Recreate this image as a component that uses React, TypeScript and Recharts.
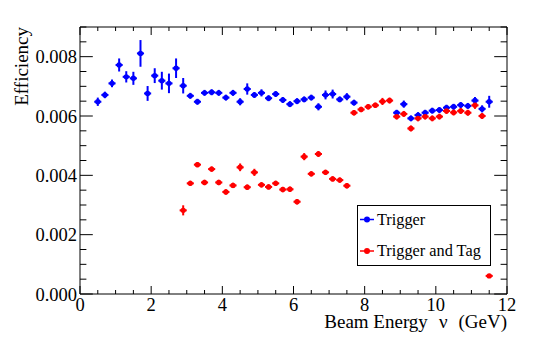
import React from "react";
import {
  ScatterChart,
  Scatter,
  XAxis,
  YAxis,
  ErrorBar,
  ReferenceArea,
  Legend,
} from "recharts";

// ---- data ----
const triggerEnergy = [
  0.5, 0.7, 0.9, 1.1, 1.3, 1.5, 1.7, 1.9, 2.1, 2.3, 2.5, 2.7, 2.9, 3.1, 3.3, 3.5,
  3.7, 3.9, 4.1, 4.3, 4.5, 4.7, 4.9, 5.1, 5.3, 5.5, 5.7, 5.9, 6.1, 6.3, 6.5, 6.7,
  6.9, 7.1, 7.3, 7.5, 7.7, 8.9, 9.1, 9.3, 9.5, 9.7, 9.9, 10.1, 10.3, 10.5, 10.7,
  10.9, 11.1, 11.3, 11.5,
];
const triggerEff = [
  0.00648, 0.00671, 0.0071, 0.00772, 0.00732, 0.00727, 0.00811, 0.00676, 0.00736,
  0.00719, 0.0071, 0.00761, 0.00702, 0.00668, 0.00648, 0.00678, 0.0068, 0.00678,
  0.00662, 0.00678, 0.00648, 0.00691, 0.00671, 0.00678, 0.0066, 0.00674, 0.00654,
  0.0064, 0.0065, 0.00656, 0.00662, 0.00631, 0.00671, 0.00674, 0.00656, 0.00665,
  0.00645, 0.00611, 0.0064, 0.00592, 0.00603, 0.00611, 0.00618, 0.0062, 0.00628,
  0.00631, 0.00637, 0.00634, 0.00652, 0.00624, 0.00648,
];
const triggerErr = [
  0.00014, 0.00011, 0.00013, 0.00022, 0.00019, 0.00022, 0.00045, 0.00025, 0.00025,
  0.0003, 0.00033, 0.00033, 0.00026, 0.0001, 0.0001, 0.0001, 0.0001, 0.0001,
  0.0001, 0.0001, 0.00012, 0.00019, 0.0001, 0.00012, 0.0001, 0.0001, 0.0001,
  0.0001, 0.0001, 0.0001, 0.0001, 0.00012, 0.00015, 0.00015, 0.0001, 0.00012,
  0.0001, 0.0001, 0.00012, 0.0001, 0.0001, 0.0001, 0.0001, 0.0001, 0.0001, 0.0001,
  0.0001, 0.0001, 0.00012, 0.00012, 0.0002,
];

const tagEnergy = [
  2.9, 3.1, 3.3, 3.5, 3.7, 3.9, 4.1, 4.3, 4.5, 4.7, 4.9, 5.1, 5.3, 5.5, 5.7, 5.9,
  6.1, 6.3, 6.5, 6.7, 6.9, 7.1, 7.3, 7.5, 7.7, 7.9, 8.1, 8.3, 8.5, 8.7, 8.9, 9.1,
  9.3, 9.5, 9.7, 9.9, 10.1, 10.3, 10.5, 10.7, 10.9, 11.1, 11.3, 11.5,
];
const tagEff = [
  0.00282, 0.00373, 0.00436, 0.00376, 0.00421, 0.00376, 0.00344, 0.00366, 0.00427,
  0.0036, 0.0041, 0.00368, 0.00361, 0.00373, 0.00352, 0.00353, 0.00311, 0.00463,
  0.00405, 0.00472, 0.0041, 0.00388, 0.00384, 0.00365, 0.00611, 0.00622, 0.00631,
  0.00636, 0.00649, 0.00652, 0.00598, 0.00607, 0.00558, 0.00592, 0.00598, 0.00592,
  0.00598, 0.00617, 0.00612, 0.00617, 0.00611, 0.00636, 0.006, 0.00061,
];
const tagErr = [
  0.00017, 0.00009, 0.00009, 0.00009, 0.00009, 0.00009, 0.00009, 0.00009, 0.00013,
  0.00009, 0.00012, 0.00009, 0.00009, 0.00009, 0.00009, 0.00009, 0.00009, 0.00012,
  0.00009, 0.0001, 0.00009, 0.00009, 0.00009, 0.00009, 0.00009, 0.00009, 0.00009,
  0.00009, 0.00012, 0.0001, 0.0001, 0.0001, 0.0001, 0.0001, 0.0001, 0.0001, 0.0001,
  0.0001, 0.0001, 0.0001, 0.0001, 0.00012, 0.0001, 0.00005,
];

const binHalfWidth = 0.1;
const xTickValues = Array.from({ length: 25 }, (_, k) => k / 2);
const yTickValues = Array.from({ length: 19 }, (_, k) => (k * 5) / 10000);

const seriesNames = ["Trigger", "Trigger and Tag"];
const seriesColors = ["#0000ff", "#ff0000"];

const triggerData = triggerEnergy.map((x, i) => ({
  x,
  y: triggerEff[i],
  ey: triggerErr[i],
  ex: binHalfWidth,
}));
const tagData = tagEnergy.map((x, i) => ({
  x,
  y: tagEff[i],
  ey: tagErr[i],
  ex: binHalfWidth,
}));

// ---- layout ----
const W = 533;
const H = 342;
const MARGIN = { top: 27, right: 26, bottom: 47, left: 79 };
const PLOT_TOP = MARGIN.top;
const PLOT_RIGHT = W - MARGIN.right;
const FONT = "Liberation Serif, Times New Roman, serif";
const serif = { fontFamily: FONT };
const FS = 18.5;

const XTick = (props: any) => {
  const { x, payload } = props;
  const y = H - MARGIN.bottom - 1;
  const v = payload.value;
  const major = Math.abs(v / 2 - Math.round(v / 2)) < 1e-9;
  const len = major ? 8 : 4;
  return (
    <g>
      <line x1={x} x2={x} y1={y} y2={y - len} stroke="#000" strokeWidth={1} />
      <line x1={x} x2={x} y1={PLOT_TOP} y2={PLOT_TOP + len} stroke="#000" strokeWidth={1} />
      {major && (
        <text x={x} y={y + 17} textAnchor="middle" style={serif} fontSize={FS} fill="#000">
          {String(v)}
        </text>
      )}
    </g>
  );
};

const YTick = (props: any) => {
  const { y, payload } = props;
  const x = MARGIN.left + 1;
  const v = payload.value;
  const k = Math.round(v * 2000);
  const major = k % 4 === 0;
  const len = major ? 12.8 : 6.4;
  return (
    <g>
      <line x1={x} x2={x + len} y1={y} y2={y} stroke="#000" strokeWidth={1} />
      <line x1={PLOT_RIGHT} x2={PLOT_RIGHT - len} y1={y} y2={y} stroke="#000" strokeWidth={1} />
      {major && (
        <text x={x - 3} y={y} dy="0.36em" textAnchor="end" style={serif} fontSize={FS} fill="#000">
          {v.toFixed(3)}
        </text>
      )}
    </g>
  );
};

const makeDot = (color: string) => (props: any) => {
  const { cx, cy } = props;
  if (cx == null || cy == null) return <g />;
  return <circle cx={cx} cy={cy} r={2.7} fill={color} />;
};

const XTitle = () => {
  const xr = PLOT_RIGHT;
  const yb = H - MARGIN.bottom - 1 + 34;
  return (
    <text x={xr} y={yb} textAnchor="end" style={serif} fontSize={19} fill="#000">
      <tspan>Beam Energy</tspan>
      <tspan dx={11}>ν</tspan>
      <tspan dx={11}>(GeV)</tspan>
    </text>
  );
};

const YTitle = () => {
  const bx = MARGIN.left + 1 - 52;
  const ty = PLOT_TOP;
  return (
    <text
      x={bx}
      y={ty}
      textAnchor="end"
      transform={`rotate(-90, ${bx}, ${ty})`}
      style={serif}
      fontSize={19}
      fill="#000"
    >
      Efficiency
    </text>
  );
};

const LegendBox = () => (
  <svg width={134} height={61} style={{ display: "block" }}>
    <rect x={0.5} y={0.5} width={133} height={60} fill="#fff" stroke="#000" strokeWidth={1} />
    {seriesNames.map((name, i) => {
      const cy = 14.5 + i * 31.5;
      return (
        <g key={name}>
          <line x1={3} x2={17} y1={cy} y2={cy} stroke={seriesColors[i]} strokeWidth={1.5} />
          <circle cx={10} cy={cy} r={3} fill={seriesColors[i]} />
          <text x={20} y={cy} dy="0.33em" style={serif} fontSize={16.3} fill="#000">
            {name}
          </text>
        </g>
      );
    })}
  </svg>
);

export default function App() {
  return (
    <div style={{ width: W, height: H, background: "#fff" }}>
      <style>{`body{margin:0;background:#fff}`}</style>
      <ScatterChart width={W} height={H} margin={MARGIN}>
        <XAxis
          type="number"
          dataKey="x"
          domain={[0, 12]}
          ticks={xTickValues}
          interval={0}
          height={1}
          tickSize={0}
          tickMargin={0}
          tickLine={false}
          axisLine={false}
          tick={<XTick />}
          allowDataOverflow
          label={{ content: <XTitle /> }}
        />
        <YAxis
          type="number"
          dataKey="y"
          domain={[0, 0.009]}
          ticks={yTickValues}
          interval={0}
          width={1}
          tickSize={0}
          tickMargin={0}
          tickLine={false}
          axisLine={false}
          tick={<YTick />}
          allowDataOverflow
          label={{ content: <YTitle /> }}
        />
        <ReferenceArea
          x1={0}
          x2={12}
          y1={0}
          y2={0.009}
          fill="none"
          fillOpacity={0}
          stroke="#000"
          strokeWidth={1}
          strokeOpacity={1}
        />
        <Scatter
          name={seriesNames[0]}
          data={triggerData}
          fill={seriesColors[0]}
          shape={makeDot(seriesColors[0])}
          isAnimationActive={false}
        >
          <ErrorBar dataKey="ey" direction="y" width={0} stroke={seriesColors[0]} strokeWidth={2} isAnimationActive={false} />
          <ErrorBar dataKey="ex" direction="x" width={0} stroke={seriesColors[0]} strokeWidth={2} isAnimationActive={false} />
        </Scatter>
        <Scatter
          name={seriesNames[1]}
          data={tagData}
          fill={seriesColors[1]}
          shape={makeDot(seriesColors[1])}
          isAnimationActive={false}
        >
          <ErrorBar dataKey="ey" direction="y" width={0} stroke={seriesColors[1]} strokeWidth={2} isAnimationActive={false} />
          <ErrorBar dataKey="ex" direction="x" width={0} stroke={seriesColors[1]} strokeWidth={2} isAnimationActive={false} />
        </Scatter>
        <Legend
          layout="horizontal"
          verticalAlign="middle"
          align="center"
          content={<LegendBox />}
          wrapperStyle={{ position: "absolute", left: 357, top: 205, width: 134, height: 61 }}
        />
      </ScatterChart>
    </div>
  );
}
